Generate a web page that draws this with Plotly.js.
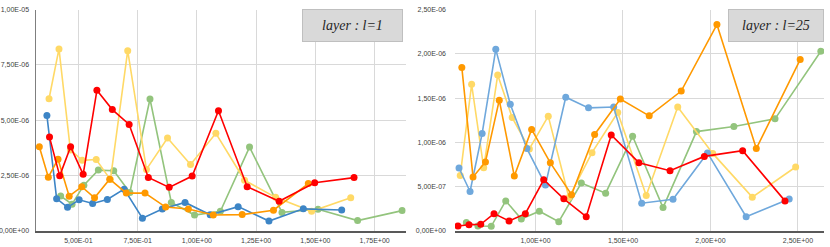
<!DOCTYPE html>
<html>
<head>
<meta charset="utf-8">
<script src="https://cdn.plot.ly/plotly-3.0.1.min.js"></script>
<style>
  html, body { margin: 0; padding: 0; background: #fff; }
  #chart { width: 830px; height: 247px; }
</style>
</head>
<body>
<div id="chart"></div>
<script>
// ---------- Left panel (layer : l=1) ----------
const l1BlueX   = [0.367, 0.408, 0.454, 0.503, 0.560, 0.622, 0.693, 0.770, 0.854, 0.950, 1.056, 1.174, 1.304, 1.449, 1.611];
const l1BlueY   = [5.22, 1.46, 1.07, 1.41, 1.24, 1.42, 1.89, 0.58, 0.99, 1.29, 0.73, 1.10, 0.45, 1.00, 0.95];
const l1OrangeX = [0.335, 0.373, 0.414, 0.461, 0.514, 0.568, 0.632, 0.702, 0.781, 0.868, 0.964, 1.069, 1.191, 1.323, 1.470];
const l1OrangeY = [3.80, 2.43, 3.24, 1.57, 2.00, 1.50, 2.34, 1.71, 1.71, 1.08, 0.99, 0.72, 0.74, 0.94, 2.14];
const l1RedX    = [0.378, 0.421, 0.467, 0.520, 0.578, 0.643, 0.714, 0.795, 0.883, 0.980, 1.091, 1.212, 1.347, 1.497, 1.663];
const l1RedY    = [4.24, 2.49, 3.80, 2.56, 6.35, 5.48, 4.81, 2.42, 1.97, 2.48, 5.43, 2.00, 1.34, 2.18, 2.41];
const l1YellowX = [0.376, 0.418, 0.466, 0.516, 0.575, 0.635, 0.708, 0.787, 0.876, 0.973, 1.080, 1.201, 1.332, 1.484, 1.649];
const l1YellowY = [5.97, 8.22, 3.66, 3.19, 3.23, 2.32, 8.14, 2.78, 4.20, 3.00, 4.41, 2.29, 1.52, 0.89, 1.50];
const l1GreenX  = [0.425, 0.473, 0.523, 0.584, 0.649, 0.717, 0.802, 0.892, 0.990, 1.099, 1.222, 1.359, 1.511, 1.678, 1.866];
const l1GreenY  = [1.58, 1.21, 2.07, 2.75, 2.72, 1.74, 5.96, 1.29, 0.72, 0.89, 3.79, 0.84, 0.98, 0.47, 0.92];
const l1Scale = 1e-6;

// ---------- Right panel (layer : l=25) ----------
const l25BlueX   = [0.563, 0.626, 0.695, 0.773, 0.856, 0.951, 1.057, 1.173, 1.303, 1.447, 1.607, 1.786, 1.983, 2.204, 2.450];
const l25BlueY   = [0.711, 0.446, 1.10, 2.05, 1.43, 0.93, 0.52, 1.51, 1.39, 1.40, 0.314, 0.359, 0.881, 0.161, 0.361];
const l25OrangeX = [0.579, 0.643, 0.714, 0.793, 0.879, 0.978, 1.085, 1.206, 1.338, 1.485, 1.650, 1.833, 2.037, 2.262, 2.513];
const l25OrangeY = [1.846, 0.61, 0.78, 1.477, 0.62, 1.147, 0.769, 0.41, 1.09, 1.49, 1.30, 1.58, 2.33, 0.93, 1.935];
const l25YellowX = [0.570, 0.635, 0.704, 0.784, 0.867, 0.965, 1.073, 1.191, 1.323, 1.470, 1.633, 1.813, 2.013, 2.239, 2.487];
const l25YellowY = [0.627, 1.655, 0.714, 1.76, 1.28, 0.926, 1.296, 0.378, 0.884, 1.338, 0.40, 1.40, 0.876, 0.382, 0.722];
const l25RedX    = [0.557, 0.620, 0.687, 0.763, 0.849, 0.942, 1.047, 1.162, 1.290, 1.433, 1.591, 1.769, 1.965, 2.184, 2.426];
const l25RedY    = [0.057, 0.071, 0.076, 0.196, 0.113, 0.196, 0.578, 0.363, 0.162, 1.083, 0.771, 0.680, 0.842, 0.907, 0.340];
const l25GreenX  = [0.605, 0.671, 0.747, 0.830, 0.919, 1.022, 1.133, 1.262, 1.401, 1.555, 1.729, 1.920, 2.134, 2.369, 2.631];
const l25GreenY  = [0.096, 0.057, 0.053, 0.340, 0.136, 0.223, 0.105, 0.541, 0.427, 1.069, 0.264, 1.122, 1.179, 1.266, 2.029];
const l25Scale = 1e-6;

// ---------- Tick labels ----------
const l1XTickVals  = [0.5, 0.75, 1.0, 1.25, 1.5, 1.75];
const l1XTickText  = ["5,00E-01", "7,50E-01", "1,00E+00", "1,25E+00", "1,50E+00", "1,75E+00"];
const l1YTickVals  = [0, 2.5e-6, 5e-6, 7.5e-6, 1e-5];
const l1YTickText  = ["0,00E+00", "2,50E-06", "5,00E-06", "7,50E-06", "1,00E-05"];
const l25XTickVals = [1.0, 1.5, 2.0, 2.5];
const l25XTickText = ["1,00E+00", "1,50E+00", "2,00E+00", "2,50E+00"];
const l25YTickVals = [0, 5e-7, 1e-6, 1.5e-6, 2e-6, 2.5e-6];
const l25YTickText = ["0,00E+00", "5,00E-07", "1,00E-06", "1,50E-06", "2,00E-06", "2,50E-06"];
const panelTitles  = ["layer : l=1", "layer : l=25"];

const scale = (arr, s) => arr.map(v => v * s);

function series(x, y, s, color, xa, ya) {
  return {
    type: 'scatter', mode: 'lines+markers',
    x: x, y: scale(y, s), xaxis: xa, yaxis: ya,
    line: { color: color, width: 1.6 },
    marker: { color: color, size: 7 },
    showlegend: false, hoverinfo: 'skip'
  };
}

const C = { blue: '#3D85C6', blue2: '#6FA8DC', orange: '#FF9900', red: '#FF0000', yellow: '#FFD966', green: '#93C47D' };

const data = [
  series(l1GreenX,  l1GreenY,  l1Scale, C.green,  'x',  'y'),
  series(l1YellowX, l1YellowY, l1Scale, C.yellow, 'x',  'y'),
  series(l1BlueX,   l1BlueY,   l1Scale, C.blue,   'x',  'y'),
  series(l1OrangeX, l1OrangeY, l1Scale, C.orange, 'x',  'y'),
  series(l1RedX,    l1RedY,    l1Scale, C.red,    'x',  'y'),
  series(l25GreenX,  l25GreenY,  l25Scale, C.green,  'x2', 'y2'),
  series(l25YellowX, l25YellowY, l25Scale, C.yellow, 'x2', 'y2'),
  series(l25BlueX,   l25BlueY,   l25Scale, C.blue2,  'x2', 'y2'),
  series(l25OrangeX, l25OrangeY, l25Scale, C.orange, 'x2', 'y2'),
  series(l25RedX,    l25RedY,    l25Scale, C.red,    'x2', 'y2')
];

const tickFont = { family: 'Liberation Sans Narrow, Arial Narrow, Liberation Sans, sans-serif', size: 7, color: '#404040' };
const W = 830, H = 247;
const yDom = [(H - 231) / H, (H - 9.5) / H];

function xAxis(domain, range, vals, text, anchor) {
  return {
    domain: domain, range: range, anchor: anchor,
    tickmode: 'array', tickvals: vals, ticktext: text,
    showgrid: true, gridcolor: '#D9D9D9', gridwidth: 1,
    zeroline: false, showline: true, linecolor: '#595959', linewidth: 1.5,
    ticks: '', tickfont: tickFont, ticklabelstandoff: 2, fixedrange: true
  };
}
function yAxis(domain, range, vals, text, anchor, showLine, standoff) {
  return {
    domain: domain, range: range, anchor: anchor,
    tickmode: 'array', tickvals: vals, ticktext: text,
    showgrid: true, gridcolor: '#D9D9D9', gridwidth: 1,
    zeroline: false, showline: showLine, linecolor: '#7F7F7F', linewidth: 1.5,
    ticks: '', tickfont: tickFont, ticklabelstandoff: standoff, fixedrange: true
  };
}

const layout = {
  width: W, height: H,
  margin: { l: 0, r: 0, t: 0, b: 0 },
  paper_bgcolor: '#ffffff', plot_bgcolor: '#ffffff',
  showlegend: false,
  xaxis:  xAxis([36 / W, 405.7 / W], [0.321, 1.881], l1XTickVals, l1XTickText, 'y'),
  yaxis:  yAxis(yDom, [0, 1e-5], l1YTickVals, l1YTickText, 'x', true, 4),
  xaxis2: xAxis([455 / W, 824 / W], [0.540, 2.649], l25XTickVals, l25XTickText, 'y2'),
  yaxis2: yAxis(yDom, [0, 2.5e-6], l25YTickVals, l25YTickText, 'x2', false, 8),
  annotations: [
    {
      xref: 'paper', yref: 'paper', x: 301.7 / W, y: (H - 9.3) / H,
      xanchor: 'left', yanchor: 'top', showarrow: false,
      text: panelTitles[0], width: 97, height: 29,
      bgcolor: '#D9D9D9', bordercolor: '#BFBFBF', borderwidth: 1, borderpad: 1,
      font: { family: 'Liberation Serif, DejaVu Serif, serif', size: 14, color: '#262626', style: 'italic' }
    },
    {
      xref: 'paper', yref: 'paper', x: 728.3 / W, y: (H - 9.3) / H,
      xanchor: 'left', yanchor: 'top', showarrow: false,
      text: panelTitles[1], width: 92, height: 29,
      bgcolor: '#D9D9D9', bordercolor: '#BFBFBF', borderwidth: 1, borderpad: 1,
      font: { family: 'Liberation Serif, DejaVu Serif, serif', size: 14, color: '#262626', style: 'italic' }
    }
  ]
};

Plotly.newPlot('chart', data, layout, { staticPlot: true, displayModeBar: false });
</script>
</body>
</html>
